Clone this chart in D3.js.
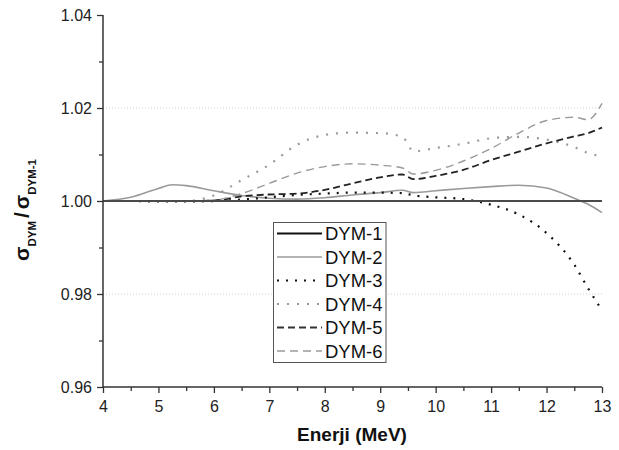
<!DOCTYPE html>
<html>
<head>
<meta charset="utf-8">
<script src="https://cdn.jsdelivr.net/npm/d3@7/dist/d3.min.js"></script>
<style>
  html, body { margin: 0; padding: 0; background: #fff; }
  svg { display: block; }
  text { font-family: "Liberation Sans", Arial, sans-serif; }
</style>
</head>
<body>
<svg id="chart" width="619" height="450"></svg>
<script>
// ---- data ----
const energy = [4, 4.5, 5, 5.25, 5.5, 6, 6.5, 7, 7.5, 8, 8.5, 9, 9.4, 9.6, 10, 10.5, 11, 11.5, 12, 12.5, 12.75, 13];
const dym1 = [1, 1, 1, 1, 1, 1, 1, 1, 1, 1, 1, 1, 1, 1, 1, 1, 1, 1, 1, 1, 1, 1];
const dym2 = [1.0000, 1.0008, 1.0027, 1.0035, 1.0033, 1.0022, 1.0012, 1.0006, 1.0004, 1.0007, 1.0013, 1.0018, 1.0023, 1.0018, 1.0022, 1.0027, 1.0031, 1.0034, 1.0028, 1.0006, 0.9993, 0.9975];
const dym3 = [1.0000, 1.0000, 0.9999, 0.9999, 0.9999, 1.0000, 1.0003, 1.0008, 1.0013, 1.0016, 1.0018, 1.0018, 1.0017, 1.0012, 1.0008, 1.0004, 0.9992, 0.9971, 0.9931, 0.9863, 0.9812, 0.9765];
const dym4 = [1.0000, 1.0000, 1.0000, 1.0000, 1.0000, 1.0012, 1.0045, 1.0078, 1.0121, 1.0142, 1.0147, 1.0146, 1.0138, 1.0107, 1.0114, 1.0123, 1.0135, 1.0138, 1.0132, 1.0116, 1.0103, 1.0096];
const dym5 = [1.0000, 1.0000, 1.0000, 1.0000, 1.0000, 1.0001, 1.0010, 1.0014, 1.0016, 1.0024, 1.0038, 1.0051, 1.0057, 1.0047, 1.0054, 1.0067, 1.0088, 1.0106, 1.0124, 1.0139, 1.0146, 1.0158];
const dym6 = [1.0000, 1.0000, 1.0000, 1.0000, 1.0000, 1.0002, 1.0016, 1.0038, 1.0060, 1.0074, 1.0080, 1.0077, 1.0071, 1.0058, 1.0066, 1.0086, 1.0113, 1.0146, 1.0173, 1.0180, 1.0175, 1.0210];
const seriesNames = ["DYM-1", "DYM-2", "DYM-3", "DYM-4", "DYM-5", "DYM-6"];
const xTicks = [4, 5, 6, 7, 8, 9, 10, 11, 12, 13];
const yTicks = [0.96, 0.98, 1.00, 1.02, 1.04];
const xLabel = "Enerji (MeV)";

// ---- styles ----
const styles = [
  { color: "#4a4a4a", width: 2,   dash: null,  legColor: "#111" },
  { color: "#9a9a9a", width: 1.6, dash: null,  legColor: "#9a9a9a" },
  { color: "#111",    width: 2.2, dash: "2,7", legColor: "#111" },
  { color: "#9a9a9a", width: 2.2, dash: "2,8", legColor: "#9a9a9a" },
  { color: "#222",    width: 1.8, dash: "7,4", legColor: "#333" },
  { color: "#9a9a9a", width: 1.4, dash: "8,5", legColor: "#9a9a9a" }
];
const values = [dym1, dym2, dym3, dym4, dym5, dym6];

const svg = d3.select("#chart");
const x = d3.scaleLinear().domain([4, 13]).range([103, 602]);
const y = d3.scaleLinear().domain([0.96, 1.04]).range([387, 15]);

// grid lines
svg.append("g").selectAll("line")
  .data([0.98, 1.00, 1.02])
  .join("line")
  .attr("x1", x(4)).attr("x2", x(13))
  .attr("y1", d => y(d)).attr("y2", d => y(d))
  .attr("stroke", "#cfcfcf").attr("stroke-width", 1)
  .attr("stroke-dasharray", "1,2");

// lines
const line = d3.line()
  .x(d => x(d[0])).y(d => y(d[1]))
  .curve(d3.curveMonotoneX);

const drawOrder = [1, 2, 3, 4, 5, 0];
drawOrder.forEach(i => {
  const pts = energy.map((e, k) => [e, values[i][k]]);
  const p = svg.append("path")
    .attr("d", line(pts))
    .attr("fill", "none")
    .attr("stroke", styles[i].color)
    .attr("stroke-width", styles[i].width);
  if (styles[i].dash) p.attr("stroke-dasharray", styles[i].dash);
});

// axes
const axisColor = "#333";
const xAxis = svg.append("g").attr("transform", `translate(0,${y(0.96)})`)
  .call(d3.axisBottom(x).tickValues(xTicks).tickSize(6).tickPadding(5).tickFormat(d3.format("d")));
const xMinor = svg.append("g").attr("transform", `translate(0,${y(0.96)})`)
  .call(d3.axisBottom(x).tickValues(d3.range(4.5, 13, 1)).tickSize(4).tickFormat(""));
const yAxis = svg.append("g").attr("transform", `translate(${x(4)},0)`)
  .call(d3.axisLeft(y).tickValues(yTicks).tickSize(6).tickPadding(5).tickFormat(d3.format(".2f")));
const yMinor = svg.append("g").attr("transform", `translate(${x(4)},0)`)
  .call(d3.axisLeft(y).tickValues([0.97, 0.99, 1.01, 1.03]).tickSize(4).tickFormat(""));

[xAxis, xMinor, yAxis, yMinor].forEach(g => {
  g.select(".domain").attr("stroke", axisColor).attr("stroke-width", 1.5);
  g.selectAll(".tick line").attr("stroke", axisColor).attr("stroke-width", 1.3);
  g.selectAll(".tick text").attr("fill", "#222").style("font-size", "16px")
    .style("font-family", "'Liberation Sans', Arial, sans-serif");
});
xAxis.select(".domain").attr("d", `M${x(4)},0H${x(13)}`);
xMinor.select(".domain").remove();
yAxis.select(".domain").attr("d", `M0,${y(0.96)}V${y(1.04)}`);
yMinor.select(".domain").remove();
xAxis.selectAll(".tick text").attr("dy", "0.9em");

// axis titles
svg.append("text")
  .attr("x", 352).attr("y", 441)
  .attr("text-anchor", "middle")
  .style("font-size", "19px").style("font-weight", "bold")
  .attr("fill", "#111")
  .text(xLabel);

const yt = svg.append("text")
  .attr("transform", "translate(29,210) rotate(-90)")
  .attr("text-anchor", "middle")
  .style("font-weight", "bold").attr("fill", "#111");
yt.append("tspan").style("font-size", "21px").text("σ");
yt.append("tspan").style("font-size", "11.5px").attr("dy", 7).text("DYM");
yt.append("tspan").style("font-size", "21px").attr("dy", -7).attr("dx", 3).text("/");
yt.append("tspan").style("font-size", "21px").attr("dx", 3).text("σ");
yt.append("tspan").style("font-size", "11.5px").attr("dy", 7).text("DYM-1");

// legend
const leg = svg.append("g");
leg.append("rect")
  .attr("x", 273.5).attr("y", 222.5).attr("width", 112.5).attr("height", 140)
  .attr("fill", "#fff").attr("stroke", "#555").attr("stroke-width", 1);
seriesNames.forEach((name, i) => {
  const ry = 233.5 + i * 23.5;
  const l = leg.append("line")
    .attr("x1", 277).attr("x2", 322).attr("y1", ry).attr("y2", ry)
    .attr("stroke", styles[i].legColor).attr("stroke-width", styles[i].width);
  if (styles[i].dash) l.attr("stroke-dasharray", styles[i].dash);
  leg.append("text")
    .attr("x", 325).attr("y", ry)
    .attr("dy", "0.36em")
    .style("font-size", "18.5px").attr("fill", "#111")
    .text(name);
});
</script>
</body>
</html>
